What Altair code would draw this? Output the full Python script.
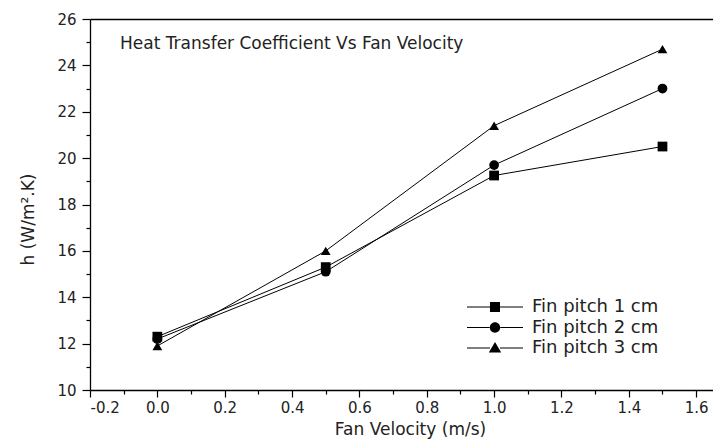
import altair as alt
import pandas as pd

# ---- data ----
velocity = [0.0, 0.5, 1.0, 1.5]
h_pitch1 = [12.3, 15.3, 19.25, 20.5]
h_pitch2 = [12.2, 15.1, 19.7, 23.0]
h_pitch3 = [11.9, 16.0, 21.4, 24.7]
series_names = ["Fin pitch 1 cm", "Fin pitch 2 cm", "Fin pitch 3 cm"]

x_major = [-0.2, 0.0, 0.2, 0.4, 0.6, 0.8, 1.0, 1.2, 1.4, 1.6]
x_minor = [-0.1, 0.1, 0.3, 0.5, 0.7, 0.9, 1.1, 1.3, 1.5]
y_major = [10, 12, 14, 16, 18, 20, 22, 24, 26]
y_minor = [11, 13, 15, 17, 19, 21, 23, 25]

chart_title = "Heat Transfer Coefficient Vs Fan Velocity"

rows = []
for name, vals in zip(series_names, [h_pitch1, h_pitch2, h_pitch3]):
    for v, h in zip(velocity, vals):
        rows.append({"v": v, "h": h, "series": name})
df = pd.DataFrame(rows)

FONT = "DejaVu Sans"
xs = alt.Scale(domain=[-0.2, 1.65], nice=False, zero=False)
ys = alt.Scale(domain=[10, 26], nice=False, zero=False)

base = alt.Chart(df)

lines = base.mark_line(color="black", strokeWidth=1).encode(
    x=alt.X("v:Q", scale=xs, axis=alt.Axis(
        orient="bottom", values=x_major, format=".1f",
        labelExpr="replace(datum.label, '\u2212', '-')",
        title="Fan Velocity (m/s)",
        tickSize=7, tickWidth=1.2, tickColor="black", domainColor="black", domainWidth=1.3,
        labelFont=FONT, labelFontSize=15, labelColor="#222", labelPadding=3,
        titleFont=FONT, titleFontSize=17, titleFontWeight="normal", titleColor="#222",
        titlePadding=6, titleX=320, grid=False)),
    y=alt.Y("h:Q", scale=ys, axis=alt.Axis(
        orient="left", values=y_major, title="h (W/m².K)",
        tickSize=8, tickWidth=1.2, tickColor="black", domainColor="black", domainWidth=1.3,
        labelFont=FONT, labelFontSize=15, labelColor="#222", labelPadding=6,
        titleFont=FONT, titleFontSize=17, titleFontWeight="normal", titleColor="#222",
        titlePadding=19, titleY=200, grid=False)),
    detail="series:N",
)

points = base.mark_point(filled=True, color="black", opacity=1, size=95).encode(
    x=alt.X("v:Q", scale=xs, axis=alt.Axis(
        orient="bottom", values=x_minor, labels=False, domain=False, grid=False,
        tickSize=4, tickWidth=1.2, tickColor="black", title=None)),
    y=alt.Y("h:Q", scale=ys, axis=alt.Axis(
        orient="left", values=y_minor, labels=False, domain=False, grid=False,
        tickSize=4, tickWidth=1.2, tickColor="black", title=None)),
    shape=alt.Shape("series:N", scale=alt.Scale(
        domain=series_names, range=["square", "circle", "triangle-up"]), legend=None),
)

# legend symbols: short line stubs on both sides of the marker (filled thin bars)
stubs = "M-2.8,-0.06H-0.5V0.06H-2.8ZM0.5,-0.06H2.8V0.06H0.5Z"
legend_paths = [
    stubs + "M-0.5,-0.5H0.5V0.5H-0.5Z",
    stubs + "M-0.52,0A0.52,0.52,0,1,0,0.52,0A0.52,0.52,0,1,0,-0.52,0Z",
    stubs + "M0,-0.6L0.62,0.45H-0.62Z",
]

legend_layer = base.mark_point(filled=True, color="black", opacity=0, size=400).encode(
    x=alt.X("v:Q", scale=xs, axis=alt.Axis(
        orient="top", labels=False, ticks=False, grid=False, domain=True,
        domainColor="black", domainWidth=1.3, title=None)),
    y=alt.Y("h:Q", scale=ys, axis=None),
    shape=alt.Shape("series:N", scale=alt.Scale(domain=series_names, range=legend_paths),
                    legend=alt.Legend(
                        title=None, orient="none", legendX=395, legendY=278,
                        symbolSize=400, symbolOpacity=1, symbolFillColor="black",
                        symbolStrokeColor="black", symbolStrokeWidth=0,
                        labelFont=FONT, labelFontSize=18, labelColor="#222",
                        labelOffset=27, rowPadding=1.5, padding=0)),
)

title_df = pd.DataFrame({"t": [chart_title]})
title_layer = alt.Chart(title_df).mark_text(
    align="left", baseline="alphabetic", font=FONT, fontSize=17, color="#222"
).encode(text="t:N", x=alt.value(30), y=alt.value(30))

chart = alt.layer(lines, points, legend_layer, title_layer).resolve_scale(
    shape="independent"
).resolve_axis(x="independent", y="independent").properties(
    width=623, height=371,
    autosize=alt.AutoSizeParams(type="none"),
    padding={"left": 82, "top": 11, "right": 0, "bottom": 50},
    background="white",
).configure_view(stroke=None)

chart.save("out.html", embed_options={"renderer": "svg", "actions": False})
